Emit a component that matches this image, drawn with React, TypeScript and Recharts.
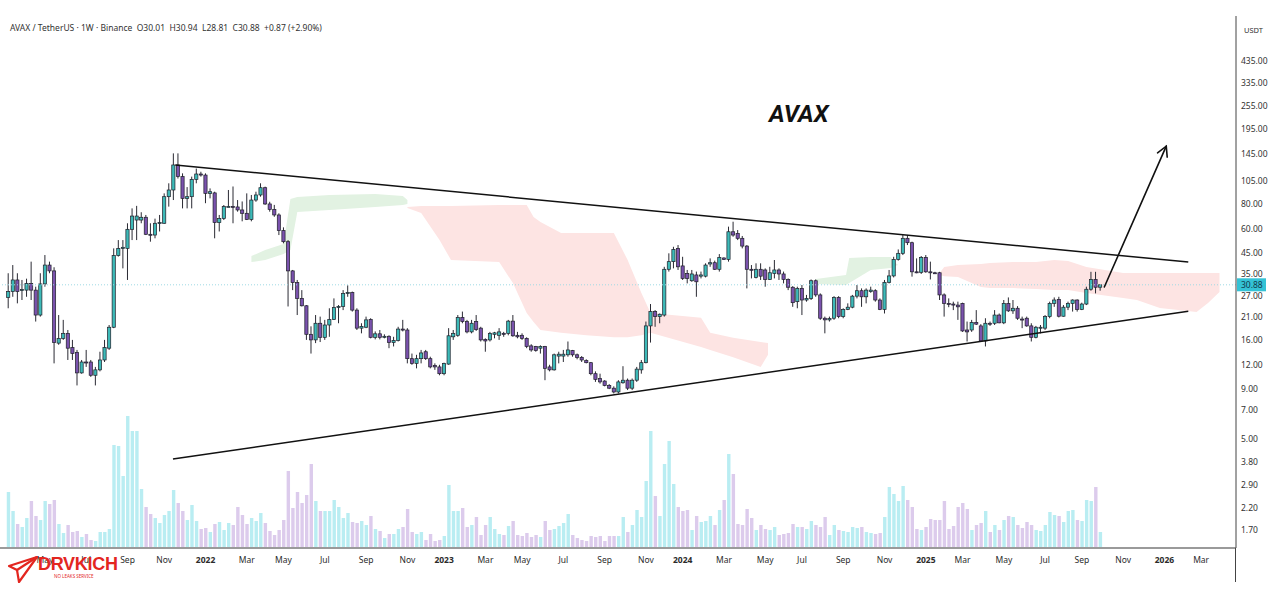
import React from "react";
import { Area, Bar, ComposedChart, ReferenceLine, XAxis, YAxis } from "recharts";

// weekly candles, first bar = week of Mon 8 Mar 2021
const START = Date.UTC(2021, 2, 8);
const WEEK = 7 * 24 * 3600 * 1000;

const open = [
  26.6, 28.5, 32.7, 29.0, 29.0, 31.4, 29.0, 21.6, 31.2, 39.0,
  36.4, 15.5, 16.4, 17.4, 14.7, 13.9, 10.9, 12.4, 12.4, 10.6,
  11.3, 12.7, 14.6, 18.7, 43.6, 47.5, 47.5, 59.5, 66.4, 66.4,
  68.6, 56.1, 55.6, 63.9, 63.9, 87.5, 94.7, 127.3, 110.9, 85.8,
  87.5, 107.4, 114.4, 113.0, 91.0, 91.5, 64.4, 67.6, 77.8, 78.0,
  77.5, 74.8, 71.9, 66.9, 84.1, 89.3, 97.3, 80.3, 75.3, 70.5,
  58.6, 51.4, 36.4, 31.7, 26.3, 24.1, 17.2, 16.1, 19.6, 16.6,
  19.2, 20.5, 23.6, 23.9, 27.9, 28.2, 22.9, 18.5, 18.7, 20.5,
  16.6, 17.3, 16.6, 16.8, 15.6, 16.0, 18.3, 18.1, 12.9, 12.2,
  12.9, 14.0, 12.9, 11.9, 11.7, 10.8, 12.1, 16.7, 17.0, 21.0,
  20.0, 17.7, 20.0, 18.5, 16.2, 16.1, 17.2, 17.0, 17.4, 17.4,
  20.1, 17.0, 17.0, 16.4, 15.0, 14.9, 14.6, 14.9, 11.7, 11.3,
  13.3, 13.3, 13.5, 14.2, 13.5, 13.1, 12.6, 12.3, 10.8, 10.2,
  9.9, 9.4, 9.1, 8.7, 9.7, 10.0, 9.1, 10.0, 11.3, 12.3,
  19.0, 22.5, 21.2, 21.6, 37.1, 40.6, 47.5, 38.6, 35.3, 32.4,
  34.7, 34.2, 34.2, 39.5, 40.1, 37.1, 42.4, 41.7, 57.8, 56.7,
  53.5, 48.8, 37.1, 33.7, 37.1, 36.8, 32.9, 35.3, 36.8, 35.1,
  32.9, 30.0, 25.3, 29.6, 25.8, 26.3, 32.4, 27.4, 20.8, 20.4,
  20.8, 26.6, 21.2, 23.1, 23.7, 27.0, 28.8, 26.8, 28.5, 28.8,
  25.8, 23.1, 31.8, 34.3, 41.7, 44.8, 53.5, 50.8, 36.0, 35.8,
  42.7, 36.0, 35.6, 35.6, 27.4, 24.8, 24.6, 24.3, 24.8, 18.1,
  18.1, 19.8, 19.0, 15.9, 19.6, 19.6, 21.6, 19.7, 24.8, 22.7,
  23.4, 20.6, 20.8, 19.0, 16.6, 18.5, 18.5, 21.2, 24.8, 26.0,
  21.3, 23.7, 24.8, 25.8, 23.1, 24.6, 29.3, 32.9, 30.01,
];

const high = [
  35.4, 39.0, 35.4, 32.7, 33.2, 40.6, 30.2, 35.4, 43.9, 40.6,
  38.0, 21.6, 20.4, 18.1, 16.1, 14.3, 12.7, 14.3, 12.7, 11.7,
  14.0, 16.1, 19.2, 47.5, 52.4, 52.4, 63.9, 76.2, 78.5, 72.8,
  70.5, 63.9, 67.5, 70.5, 91.0, 102.5, 146.0, 146.0, 115.3, 98.0,
  110.9, 122.0, 117.5, 115.3, 96.5, 92.8, 70.5, 79.3, 94.7, 98.7,
  84.1, 82.7, 91.0, 89.3, 92.8, 102.5, 98.5, 82.4, 79.4, 71.9,
  60.9, 52.4, 36.8, 32.7, 29.0, 24.3, 18.9, 21.6, 21.2, 20.4,
  23.4, 26.3, 24.3, 29.0, 30.7, 28.5, 23.4, 19.6, 21.2, 20.8,
  17.8, 18.1, 17.2, 17.0, 16.7, 18.8, 20.4, 18.5, 13.7, 13.5,
  14.3, 14.3, 13.2, 12.2, 12.0, 12.3, 18.5, 18.1, 21.6, 22.5,
  20.4, 20.4, 21.6, 18.8, 16.4, 17.7, 17.7, 18.5, 17.7, 20.4,
  21.6, 17.7, 17.4, 16.6, 15.3, 15.0, 15.1, 15.0, 12.0, 13.7,
  14.0, 14.3, 15.8, 14.3, 13.7, 13.3, 12.8, 12.4, 11.1, 10.8,
  10.0, 9.55, 9.3, 10.0, 11.8, 10.2, 10.2, 11.7, 12.7, 20.0,
  24.6, 22.9, 22.0, 38.2, 44.8, 48.4, 49.4, 43.0, 36.8, 36.8,
  36.1, 36.1, 39.8, 42.2, 41.1, 44.4, 42.7, 61.4, 65.1, 59.0,
  55.0, 49.4, 39.0, 39.8, 39.8, 37.5, 38.2, 41.4, 37.5, 36.1,
  33.3, 30.4, 30.2, 30.8, 27.4, 32.9, 32.9, 27.9, 21.2, 21.2,
  27.0, 27.0, 23.4, 24.8, 27.4, 30.8, 29.6, 29.6, 30.2, 29.3,
  26.3, 32.7, 36.8, 43.0, 46.9, 55.6, 55.6, 51.4, 42.2, 43.4,
  43.9, 40.6, 36.0, 36.0, 27.9, 26.3, 25.3, 25.3, 25.0, 20.0,
  20.4, 22.9, 19.4, 20.8, 20.0, 22.9, 22.0, 25.8, 26.6, 25.8,
  24.0, 21.2, 21.2, 19.6, 19.0, 19.2, 21.6, 25.3, 26.6, 26.8,
  24.3, 25.3, 26.0, 26.0, 25.0, 30.2, 36.0, 36.0, 30.94,
];

const low = [
  23.4, 26.8, 24.8, 25.8, 26.8, 25.8, 20.0, 21.2, 30.2, 35.4,
  12.2, 15.2, 16.1, 12.7, 12.7, 9.4, 10.8, 11.7, 10.4, 9.4,
  11.1, 12.4, 14.3, 18.5, 43.1, 37.5, 32.7, 52.4, 52.4, 63.9,
  55.6, 51.4, 53.5, 58.0, 63.5, 77.8, 84.1, 108.5, 76.2, 76.2,
  76.2, 102.5, 110.9, 81.0, 85.8, 53.5, 58.0, 66.4, 77.5, 63.9,
  73.3, 65.4, 66.4, 65.4, 82.4, 87.5, 79.4, 73.3, 69.0, 55.6,
  50.4, 23.9, 29.0, 21.6, 23.9, 16.1, 13.7, 15.5, 15.7, 16.1,
  16.7, 20.4, 19.6, 22.9, 26.8, 22.5, 18.1, 17.4, 18.5, 16.4,
  16.2, 16.2, 16.4, 14.6, 14.9, 15.8, 17.8, 12.2, 12.0, 11.5,
  12.2, 12.7, 11.5, 11.3, 10.6, 10.6, 12.0, 16.1, 16.7, 19.6,
  17.4, 17.4, 17.9, 15.8, 14.0, 15.8, 16.4, 16.1, 16.7, 17.0,
  16.7, 16.4, 16.1, 14.6, 14.0, 14.0, 13.7, 10.0, 11.1, 11.2,
  12.2, 12.4, 13.2, 13.2, 12.8, 12.4, 12.2, 10.6, 9.8, 9.6,
  9.3, 9.0, 8.55, 8.55, 9.6, 8.9, 8.9, 9.8, 10.8, 12.2,
  15.6, 18.8, 19.6, 21.2, 36.1, 37.5, 36.8, 32.7, 31.4, 32.0,
  26.8, 33.3, 33.7, 38.2, 36.8, 36.1, 41.4, 40.6, 54.5, 52.4,
  47.5, 29.6, 33.3, 33.3, 32.7, 30.2, 32.7, 33.3, 32.7, 31.4,
  29.0, 23.8, 23.4, 21.6, 25.3, 25.8, 26.8, 20.4, 17.4, 20.0,
  20.4, 20.8, 20.8, 22.9, 23.4, 26.3, 23.8, 24.8, 28.1, 25.3,
  22.9, 22.0, 31.4, 33.7, 41.1, 43.9, 49.4, 34.0, 35.4, 35.1,
  35.6, 32.9, 35.1, 25.8, 21.2, 23.7, 22.9, 20.4, 17.7, 15.8,
  17.7, 19.2, 15.8, 14.9, 19.0, 19.2, 19.6, 19.4, 22.4, 21.9,
  20.4, 18.5, 18.8, 15.8, 16.4, 17.4, 18.1, 20.8, 23.8, 21.0,
  21.2, 22.9, 22.5, 22.5, 22.9, 24.3, 28.8, 27.9, 28.81,
];

const close = [
  28.5, 32.7, 28.5, 29.2, 31.4, 29.0, 21.6, 31.2, 39.0, 36.4,
  15.6, 16.4, 17.4, 14.6, 13.7, 10.9, 12.4, 12.3, 10.6, 11.3,
  12.7, 14.7, 18.7, 43.6, 47.5, 48.1, 59.5, 69.6, 69.6, 68.6,
  56.1, 55.6, 63.9, 64.4, 87.5, 94.7, 127.3, 110.9, 85.8, 87.5,
  107.4, 114.4, 113.0, 91.0, 92.8, 64.4, 67.6, 77.8, 78.0, 77.5,
  74.8, 71.9, 66.9, 84.1, 89.3, 97.3, 80.3, 75.3, 70.5, 58.6,
  51.4, 36.4, 31.7, 26.3, 24.1, 17.2, 16.1, 19.6, 16.6, 19.2,
  20.5, 23.6, 23.9, 27.9, 28.2, 22.9, 18.5, 18.9, 20.4, 16.6,
  17.3, 16.6, 16.8, 15.6, 16.0, 18.3, 18.1, 12.9, 12.2, 12.9,
  13.8, 12.9, 11.7, 11.7, 10.8, 12.2, 16.9, 17.4, 21.0, 20.0,
  17.7, 19.6, 18.2, 16.1, 15.9, 17.4, 17.5, 17.7, 17.2, 20.1,
  16.9, 16.7, 16.4, 14.9, 14.3, 14.2, 14.9, 11.5, 11.3, 13.5,
  13.6, 13.6, 14.3, 13.5, 13.1, 12.7, 12.3, 10.8, 10.1, 9.8,
  9.4, 9.1, 8.7, 9.8, 10.0, 9.1, 10.0, 11.4, 12.3, 19.0,
  22.5, 21.2, 21.8, 37.1, 40.6, 46.9, 38.2, 33.3, 33.3, 35.1,
  32.0, 34.7, 39.0, 40.1, 37.1, 42.7, 41.7, 57.8, 55.6, 53.5,
  48.8, 37.1, 36.8, 37.1, 34.2, 32.9, 35.6, 36.8, 35.1, 32.9,
  30.0, 25.0, 29.6, 25.8, 26.3, 32.4, 27.4, 20.8, 20.4, 20.7,
  26.6, 21.2, 23.1, 23.7, 27.0, 28.8, 26.8, 29.0, 29.0, 25.8,
  23.1, 31.8, 34.3, 41.7, 44.8, 53.5, 50.8, 36.0, 35.8, 42.7,
  36.0, 35.6, 35.4, 27.4, 24.8, 24.6, 24.3, 23.8, 17.9, 17.7,
  19.8, 19.4, 15.9, 19.6, 19.4, 21.6, 19.7, 24.8, 22.7, 23.4,
  20.8, 20.4, 19.0, 16.6, 18.7, 18.7, 21.2, 24.8, 25.8, 21.3,
  23.7, 24.8, 25.8, 23.1, 24.6, 29.3, 32.9, 30.0, 30.88,
];

// relative weekly volume (scale only matters against VOL_MAX)
const volume = [
  56, 37, 24, 21, 30, 47, 32, 28, 47, 44,
  48, 24, 15, 23, 16, 17, 11, 14, 8, 7,
  16, 16, 19, 103, 102, 72, 132, 117, 117, 59,
  41, 34, 30, 25, 33, 37, 58, 45, 37, 28,
  43, 27, 19, 20, 16, 24, 26, 18, 25, 23,
  41, 33, 24, 30, 27, 35, 25, 17, 13, 18,
  28, 77, 40, 56, 45, 53, 84, 47, 37, 37,
  37, 48, 41, 30, 35, 26, 25, 27, 23, 32,
  19, 17, 10, 14, 14, 19, 21, 39, 16, 14,
  16, 8, 14, 7, 8, 12, 63, 37, 37, 40,
  21, 23, 31, 13, 23, 31, 19, 14, 13, 22,
  27, 13, 12, 15, 11, 13, 11, 27, 18, 19,
  22, 25, 34, 13, 10, 8, 7, 12, 11, 12,
  7, 12, 12, 12, 31, 16, 23, 38, 31, 67,
  117, 52, 32, 84, 107, 64, 41, 37, 38, 18,
  32, 26, 27, 32, 23, 38, 48, 94, 74, 24,
  23, 39, 30, 18, 23, 19, 18, 21, 13, 14,
  15, 24, 21, 21, 19, 27, 23, 21, 31, 13,
  23, 18, 17, 16, 21, 20, 21, 16, 15, 14,
  15, 31, 61, 54, 47, 62, 48, 41, 19, 18,
  21, 29, 28, 28, 47, 19, 22, 41, 45, 39,
  18, 23, 25, 37, 16, 23, 18, 28, 32, 31,
  23, 20, 26, 23, 18, 17, 23, 36, 33, 32,
  26, 37, 38, 28, 27, 48, 47, 61, 16,
];
const VOL_MAX = 532;

// ichimoku cloud pieces: [week, upper, lower]
const greenCloud1 = [
  [53, 43.4, 40.4], [56, 46.6, 41.4], [60, 50.0, 44.4], [61.5, 85.1, 46.6],
  [63, 87.2, 73.0], [70, 89.2, 74.7], [80, 90.3, 77.4], [86, 88.2, 79.3], [87, 84.1, 80.3],
];
const redCloud1 = [
  [87, 77.4, 76.6], [90, 78.3, 72.1], [94, 78.3, 52.4], [96.5, 78.3, 41.4],
  [107, 79.3, 40.4], [110, 79.3, 31.5], [113, 79.3, 22.1], [114.5, 68.8, 19.9],
  [116, 64.9, 18.1], [120.5, 56.9, 17.5], [126, 56.9, 17.0], [132, 56.9, 16.6],
  [135, 41.4, 16.6], [138, 28.0, 17.0], [140, 22.1, 17.5], [151, 20.9, 14.8],
  [153, 17.5, 14.3], [158, 16.5, 13.1], [164, 15.7, 11.7], [165.6, 15.5, 13.5],
];
const greenCloud2 = [
  [176, 33.1, 31.2], [182.6, 34.7, 30.8], [183.3, 42.4, 31.5], [188, 42.9, 36.8],
  [192.4, 42.9, 37.7], [193, 40.4, 38.5], [194, 39.0, 39.0],
];
const redCloud2 = [
  [203, 35.5, 34.7], [204, 38.1, 34.2], [207, 39.0, 33.9], [212, 39.5, 30.1],
  [214, 39.9, 29.7], [219, 40.4, 29.7], [224, 40.4, 29.4], [228, 41.4, 29.0],
  [231, 40.9, 29.0], [235, 38.1, 28.0], [243, 35.5, 26.4], [246, 35.5, 25.8],
  [251, 35.5, 23.5], [259, 35.5, 22.4], [261.5, 35.5, 24.9], [264, 35.5, 28.4],
];

// hand-drawn lines, in (week, price)
const upperTrend = [{ x: 36.4, y: 127.2 }, { x: 257.2, y: 40.4 }];
const lowerTrend = [{ x: 35.9, y: 3.94 }, { x: 257.2, y: 22.6 }];
const arrowLine = [{ x: 238.9, y: 30.1 }, { x: 252.4, y: 159 }];

const LAST = 30.88;
const priceTicks = [1.7, 2.2, 2.9, 3.8, 5, 7, 9, 12, 16, 21, 27, 35, 45, 60, 80, 105, 145, 195, 255, 335, 435];

const monthLabels = [
  "May", "Jul", "Sep", "Nov", "2022", "Mar", "May", "Jul", "Sep", "Nov",
  "2023", "Mar", "May", "Jul", "Sep", "Nov", "2024", "Mar", "May", "Jul",
  "Sep", "Nov", "2025", "Mar", "May", "Jul", "Sep", "Nov", "2026", "Mar",
];
const monthStarts = [
  "2021-05-01", "2021-07-01", "2021-09-01", "2021-11-01", "2022-01-01", "2022-03-01",
  "2022-05-01", "2022-07-01", "2022-09-01", "2022-11-01", "2023-01-01", "2023-03-01",
  "2023-05-01", "2023-07-01", "2023-09-01", "2023-11-01", "2024-01-01", "2024-03-01",
  "2024-05-01", "2024-07-01", "2024-09-01", "2024-11-01", "2025-01-01", "2025-03-01",
  "2025-05-01", "2025-07-01", "2025-09-01", "2025-11-01", "2026-01-01", "2026-03-01",
];

const TEAL = "#3dbab8";
const PURPLE = "#7a52ad";
const FONT = "'Noto Sans', 'DejaVu Sans', sans-serif";

const rows = open.map((o, i) => ({ i, o, h: high[i], l: low[i], c: close[i], v: volume[i] }));
// label on the first weekly bar of each month
const xTicks = monthStarts.map((d) => Math.ceil((Date.parse(d) - START) / WEEK));
const toBand = (pts: number[][]) => pts.map(([i, up, lo]) => ({ i, band: [lo, up] }));
const X_DOMAIN: [number, number] = [-1.8, 267.6];

function Candle(props: any) {
  const { x, y, width, height, payload } = props;
  if (!payload || !Number.isFinite(y)) return null;
  const cx = x + width / 2;
  const lh = Math.log(payload.h);
  const ll = Math.log(payload.l);
  const at = (v: number) => (lh === ll ? y : y + (height * (lh - Math.log(v))) / (lh - ll));
  const yo = at(payload.o);
  const yc = at(payload.c);
  const up = payload.c >= payload.o;
  return (
    <g>
      <line x1={cx} x2={cx} y1={y} y2={y + height} stroke="#2a2a33" strokeWidth={1} />
      <rect
        x={cx - 1.6} y={Math.min(yo, yc)} width={3.2} height={Math.max(1, Math.abs(yc - yo))}
        fill={up ? TEAL : PURPLE} stroke="#1e1e28" strokeWidth={0.7}
      />
    </g>
  );
}

function VolBar(props: any) {
  const { x, y, width, height, payload } = props;
  if (!payload || !Number.isFinite(y)) return null;
  const cx = x + width / 2;
  const up = payload.c >= payload.o;
  return <rect x={cx - 1.7} y={y} width={3.4} height={height} fill={up ? "#b9edf2" : "#dccbec"} />;
}

function XTick(props: any) {
  const { x, y, payload } = props;
  const k = xTicks.indexOf(payload.value);
  const label = k >= 0 ? monthLabels[k] : "";
  const year = /^\d{4}$/.test(label);
  return (
    <text x={x} y={y} dy={7} textAnchor="middle" fontSize={8.5} fontFamily={FONT}
      fontWeight={year ? 700 : 400} fill="#2b2b2b">
      {label}
    </text>
  );
}

function ArrowShape(props: any) {
  const { x1, y1, x2, y2 } = props;
  const a = Math.atan2(y2 - y1, x2 - x1);
  const len = 11;
  const p1 = [x2 - len * Math.cos(a - 0.5), y2 - len * Math.sin(a - 0.5)];
  const p2 = [x2 - len * Math.cos(a + 0.5), y2 - len * Math.sin(a + 0.5)];
  return (
    <g fill="none" stroke="#111" strokeWidth={1.6} strokeLinecap="round">
      <line x1={x1} y1={y1} x2={x2} y2={y2} />
      <path d={`M${p1[0]},${p1[1]} L${x2},${y2} L${p2[0]},${p2[1]}`} />
    </g>
  );
}

function PriceTag(props: any) {
  const vb = props.viewBox;
  if (!vb) return null;
  const x = vb.x + vb.width + 1;
  return (
    <g>
      <rect x={x} y={vb.y - 6.5} width={29} height={13} fill="#34c2d5" />
      <text x={x + 4} y={vb.y + 3} fontSize={8.5} fontFamily={FONT} fill="#123a4c">
        {LAST.toFixed(2)}
      </text>
    </g>
  );
}

export default function App() {
  return (
    <div style={{ position: "absolute", left: 0, top: 0, width: 1281, height: 602, background: "#fff", fontFamily: FONT }}>
      <ComposedChart width={1281} height={602} data={rows} margin={{ top: 16, right: 0, bottom: 24, left: 0 }}>
        <XAxis
          dataKey="i" type="number" domain={X_DOMAIN} allowDataOverflow ticks={xTicks} interval={0}
          tick={XTick} tickLine={false} tickSize={4} tickMargin={4} height={30}
          axisLine={{ stroke: "#9a9a9a", strokeWidth: 2 }}
        />
        <XAxis xAxisId="v" dataKey="i" type="number" domain={X_DOMAIN} allowDataOverflow hide />
        <YAxis
          yAxisId="price" orientation="right" scale="log" type="number" domain={[1.376, 740.5]}
          allowDataOverflow ticks={priceTicks} interval={0} width={45} tickLine={false}
          tickSize={0} tickMargin={5} tickFormatter={(v: number) => v.toFixed(2)}
          tick={{ fontSize: 8.5, fill: "#333", fontFamily: FONT }}
          axisLine={{ stroke: "#444" }}
        />
        <YAxis yAxisId="vol" domain={[0, VOL_MAX]} hide />

        <Area data={toBand(greenCloud1)} dataKey="band" yAxisId="price" type="linear" stroke="none" fill="#e2f2e2" fillOpacity={1} isAnimationActive={false} />
        <Area data={toBand(redCloud1)} dataKey="band" yAxisId="price" type="linear" stroke="none" fill="#fde4e3" fillOpacity={1} isAnimationActive={false} />
        <Area data={toBand(greenCloud2)} dataKey="band" yAxisId="price" type="linear" stroke="none" fill="#e2f2e2" fillOpacity={1} isAnimationActive={false} />
        <Area data={toBand(redCloud2)} dataKey="band" yAxisId="price" type="linear" stroke="none" fill="#fde4e3" fillOpacity={1} isAnimationActive={false} />

        <Bar xAxisId="v" yAxisId="vol" dataKey="v" barSize={3} shape={VolBar} isAnimationActive={false} />

        <ReferenceLine yAxisId="price" y={LAST} stroke="#9fd9e4" strokeDasharray="1 2" label={PriceTag} />

        <Bar yAxisId="price" dataKey={(d: any) => [d.l, d.h]} barSize={3} shape={Candle} isAnimationActive={false} />

        <ReferenceLine yAxisId="price" segment={upperTrend} stroke="#111" strokeWidth={1.5} ifOverflow="visible" />
        <ReferenceLine yAxisId="price" segment={lowerTrend} stroke="#111" strokeWidth={1.5} ifOverflow="visible" />
        <ReferenceLine yAxisId="price" segment={arrowLine} ifOverflow="visible" shape={ArrowShape} />
      </ComposedChart>

      <div style={{ position: "absolute", left: 10, top: 22, fontSize: 8.5, color: "#333", whiteSpace: "pre" }}>
        {"AVAX / TetherUS · 1W · Binance  O30.01  H30.94  L28.81  C30.88  +0.87 (+2.90%)"}
      </div>
      <div style={{ position: "absolute", left: 1244, top: 25, fontSize: 7.5, color: "#333" }}>USDT</div>
      <div style={{ position: "absolute", left: 769, top: 100, fontSize: 24, fontWeight: 700, fontStyle: "italic", fontFamily: "Roboto, sans-serif", color: "#111" }}>
        AVAX
      </div>
      <div style={{ position: "absolute", left: 1235, top: 548, width: 1, height: 34, background: "#444" }} />

      <svg style={{ position: "absolute", left: 0, top: 548 }} width={40} height={40}>
        <g fill="none" stroke="#e3261f" strokeWidth={2.2} strokeLinejoin="round">
          <path d="M37 9 L9 18 L17 22 L19 34 Z" />
          <path d="M17 22 L37 9" />
        </g>
      </svg>
      <div style={{ position: "absolute", left: 38, top: 554, fontSize: 18, fontWeight: 700, color: "#e3261f", fontFamily: "'Liberation Sans', Arial, sans-serif", letterSpacing: -0.3 }}>
        DRVKICH
      </div>
      <div style={{ position: "absolute", left: 54, top: 573, fontSize: 4.5, color: "#e3261f" }}>NO LEAKS SERVICE</div>
    </div>
  );
}
